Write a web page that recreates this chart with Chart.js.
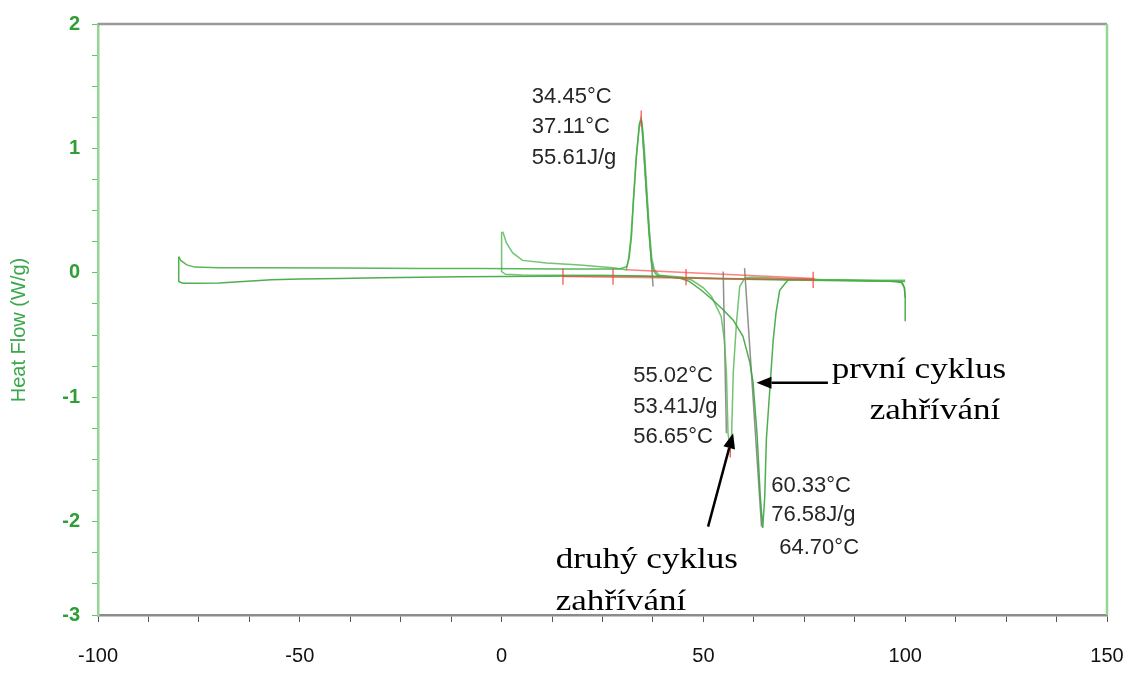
<!DOCTYPE html>
<html>
<head>
<meta charset="utf-8">
<script src="https://cdn.jsdelivr.net/npm/chart.js@4.4.1/dist/chart.umd.min.js"></script>
<style>
  body { margin: 0; background: #fff; }
  #wrap { width: 1129px; height: 682px; position: relative; }
</style>
</head>
<body>
<div id="wrap"><canvas id="dsc"></canvas></div>
<script>
// --- data (temperature °C, heat flow W/g) ---
// 1st cooling 100 -> -80 (crystallisation peak)
const cool1X = [100, 98, 90, 80, 70, 60, 50, 42, 38.5, 37.6, 37.1, 36.5, 35.9, 35.3, 34.9, 34.6, 34.2, 33.4, 32.6, 32.2, 31.6, 31.0, 29, 25, 15, 5, -5, -20, -40, -60, -70, -76, -78, -79.5, -80];
const cool1Y = [-0.07, -0.068, -0.065, -0.062, -0.058, -0.052, -0.045, -0.035, -0.02, 0.02, 0.1, 0.32, 0.62, 0.95, 1.15, 1.23, 1.2, 0.94, 0.55, 0.3, 0.12, 0.05, 0.03, 0.03, 0.03, 0.033, 0.035, 0.035, 0.038, 0.04, 0.04, 0.046, 0.064, 0.1, 0.13];
// 1st heating -80 -> 100 (melting 64.70 °C)
const heat1X = [-80, -80, -79, -76, -70, -64, -57, -50, -40, -30, -20, -10, 0, 10, 20, 30, 40, 44, 46.6, 49.5, 52.4, 55, 57.4, 59.8, 61.5, 62.3, 63.3, 64.1, 64.7, 65.2, 65.6, 66.45, 67.3, 68, 68.9, 71, 75, 80, 85, 90, 95, 98, 99.3, 99.8, 100, 100];
const heat1Y = [0.13, -0.07, -0.083, -0.083, -0.082, -0.07, -0.056, -0.05, -0.045, -0.04, -0.035, -0.032, -0.03, -0.028, -0.026, -0.026, -0.03, -0.04, -0.07, -0.14, -0.22, -0.3, -0.38, -0.51, -0.72, -0.88, -1.3, -1.8, -2.05, -1.8, -1.34, -0.94, -0.54, -0.32, -0.14, -0.056, -0.052, -0.055, -0.058, -0.062, -0.066, -0.07, -0.08, -0.12, -0.2, -0.39];
// 2nd cooling 100 -> 0
const cool2X = [100, 95, 85, 70, 55, 45, 39, 37.8, 37.2, 36.6, 36.0, 35.4, 34.9, 34.5, 34.1, 33.3, 32.5, 32.0, 31.4, 30.9, 27.5, 19.4, 11.1, 5.2, 2.75, 1.2, 0.3];
const cool2Y = [-0.06, -0.06, -0.058, -0.052, -0.045, -0.035, -0.02, 0.03, 0.12, 0.35, 0.66, 0.98, 1.17, 1.24, 1.19, 0.9, 0.5, 0.27, 0.1, 0.024, 0.04, 0.064, 0.08, 0.1, 0.16, 0.24, 0.33];
// 2nd heating 0 -> 100 (melting 56.65 °C)
const heat2X = [0, 0, 1, 5, 15, 25, 35, 42, 47, 50, 52, 54.4, 55.2, 55.7, 56.1, 56.65, 57.0, 57.4, 58.2, 59.0, 60.3, 62, 66, 72, 80, 90, 96, 99, 99.8, 100];
const heat2Y = [0.33, 0.01, -0.012, -0.018, -0.02, -0.02, -0.025, -0.035, -0.056, -0.12, -0.19, -0.35, -0.54, -0.8, -1.29, -1.42, -1.29, -0.8, -0.4, -0.11, -0.04, -0.035, -0.04, -0.05, -0.058, -0.064, -0.068, -0.075, -0.12, -0.2];

// integration baselines and onset tangents [x1, y1, x2, y2]
const baselineSegs = [[30.9, 0.024, 77.6, -0.045], [15.2, -0.03, 77.2, -0.056]];
const tangentSegs = [[34.65, 1.23, 37.53, -0.11], [54.9, 0.01, 55.7, -1.29], [60.2, 0.038, 64.4, -2.04]];
// limit / peak markers (x, centre y)
const markerX = [15.2, 27.6, 45.7, 77.2, 34.6, 56.65];
const markerY = [-0.03, -0.03, -0.035, -0.056, 1.24, -1.42];

// axis ticks
const xTicks = [-100, -87.5, -75, -62.5, -50, -37.5, -25, -12.5, 0, 12.5, 25, 37.5, 50, 62.5, 75, 87.5, 100, 112.5, 125, 137.5, 150];
const xTickLabels = ['-100', '', '', '', '-50', '', '', '', '0', '', '', '', '50', '', '', '', '100', '', '', '', '150'];
const yTicks = [-2.75, -2.5, -2.25, -2, -1.75, -1.5, -1.25, -1, -0.75, -0.5, -0.25, 0, 0.25, 0.5, 0.75, 1, 1.25, 1.5, 1.75, 2];
const yTickLabels = ['-3', '', '', '-2', '', '', '', '-1', '', '', '', '0', '', '', '', '1', '', '', '', '2'];

// annotation texts: [text, x, y] in data units
const resultTexts = [
    ['34.45°C', 7.5, 1.414], ['37.11°C', 7.5, 1.173], ['55.61J/g', 7.5, 0.924],
    ['55.02°C', 32.6, -0.827], ['53.41J/g', 32.6, -1.076], ['56.65°C', 32.6, -1.317],
    ['60.33°C', 66.8, -1.711], ['76.58J/g', 66.8, -1.944], ['64.70°C', 68.8, -2.209]
];
const noteTexts = [
    ['první cyklus', 81.8, -0.78], ['zahřívání', 91.2, -1.11],
    ['druhý cyklus', 13.4, -2.305], ['zahřívání', 13.4, -2.65]
];
const arrows = [[80.85, -0.884, 63.16, -0.884], [51.16, -2.04, 57.36, -1.29]];

const toPoints = (xs, ys) => xs.map((x, i) => ({ x, y: ys[i] }));
const segPoints = segs => {
    const pts = [];
    segs.forEach(([x1, y1, x2, y2]) => pts.push({ x: x1, y: y1 }, { x: x2, y: y2 }, { x: x2, y: null }));
    return pts;
};
const markerSegs = markerX.map((x, i) => [x, markerY[i] - 0.065, x, markerY[i] + 0.065]);

const lineDs = (data, color, width) => ({
    data, borderColor: color, borderWidth: width, showLine: true,
    pointRadius: 0, tension: 0, spanGaps: false
});

const extras = {
    id: 'extras',
    afterDraw(chart) {
        const { ctx, chartArea: a, scales: { x, y } } = chart;
        ctx.save();
        // frame: top grey, right green
        ctx.lineWidth = 2.5;
        ctx.strokeStyle = '#999';
        ctx.beginPath(); ctx.moveTo(a.left, a.top); ctx.lineTo(a.right, a.top); ctx.stroke();
        ctx.strokeStyle = '#95d595';
        ctx.beginPath(); ctx.moveTo(a.right, a.top); ctx.lineTo(a.right, a.bottom); ctx.stroke();

        // y axis title
        ctx.save();
        ctx.translate(19, 330);
        ctx.rotate(-Math.PI / 2);
        ctx.fillStyle = '#3aa84a';
        ctx.font = '20px "Liberation Sans", Arial, sans-serif';
        ctx.textAlign = 'center';
        ctx.textBaseline = 'middle';
        ctx.fillText('Heat Flow (W/g)', 0, 0);
        ctx.restore();

        ctx.fillStyle = '#262626';
        ctx.font = '22px "Liberation Sans", Arial, sans-serif';
        ctx.textBaseline = 'middle';
        resultTexts.forEach(([t, vx, vy]) => ctx.fillText(t, x.getPixelForValue(vx), y.getPixelForValue(vy)));

        // Czech notes, set in a slightly widened serif
        ctx.fillStyle = '#000';
        ctx.font = '30px "Liberation Serif", "Times New Roman", serif';
        noteTexts.forEach(([t, vx, vy]) => {
            ctx.save();
            ctx.translate(x.getPixelForValue(vx), y.getPixelForValue(vy));
            ctx.scale(1.17, 1);
            ctx.fillText(t, 0, 0);
            ctx.restore();
        });

        ctx.strokeStyle = '#000';
        ctx.lineWidth = 2.5;
        arrows.forEach(([x1, y1, x2, y2]) => {
            const px1 = x.getPixelForValue(x1), py1 = y.getPixelForValue(y1);
            const px2 = x.getPixelForValue(x2), py2 = y.getPixelForValue(y2);
            const ang = Math.atan2(py2 - py1, px2 - px1);
            const len = 15, half = 6;
            const bx = px2 - len * Math.cos(ang), by = py2 - len * Math.sin(ang);
            ctx.beginPath(); ctx.moveTo(px1, py1); ctx.lineTo(bx, by); ctx.stroke();
            ctx.beginPath();
            ctx.moveTo(px2, py2);
            ctx.lineTo(bx + half * Math.sin(ang), by - half * Math.cos(ang));
            ctx.lineTo(bx - half * Math.sin(ang), by + half * Math.cos(ang));
            ctx.closePath(); ctx.fill();
        });
        ctx.restore();
    }
};

new Chart(document.getElementById('dsc'), {
    type: 'scatter',
    data: {
        datasets: [
            lineDs(segPoints(baselineSegs), 'rgba(255,60,60,0.65)', 1.5),
            lineDs(segPoints(markerSegs), 'rgba(255,60,60,0.75)', 1.5),
            lineDs(toPoints(cool1X, cool1Y), 'rgba(70,175,70,0.9)', 1.5),
            lineDs(toPoints(cool2X, cool2Y), 'rgba(90,185,90,0.85)', 1.5),
            lineDs(toPoints(heat1X, heat1Y), 'rgba(60,165,60,0.9)', 1.5),
            lineDs(toPoints(heat2X, heat2Y), 'rgba(90,185,90,0.85)', 1.5),
            lineDs(segPoints(tangentSegs), 'rgba(70,70,70,0.6)', 1.5)
        ]
    },
    options: {
        responsive: true,
        maintainAspectRatio: false,
        animation: false,
        layout: { padding: { top: 24, right: 22, left: 0, bottom: 0 } },
        plugins: { legend: { display: false }, tooltip: { enabled: false } },
        scales: {
            x: {
                type: 'linear', min: -100, max: 150,
                afterBuildTicks: s => { s.ticks = xTicks.map(v => ({ value: v })); },
                afterFit: s => { s.height = 67; s.paddingLeft = 0; s.paddingRight = 0; },
                border: { color: '#8c8c8c', width: 2.5 },
                grid: { drawOnChartArea: false, tickLength: 7, color: '#555' },
                ticks: {
                    autoSkip: false, maxRotation: 0, color: '#111', padding: 22,
                    font: { size: 20, family: '"Liberation Sans", Arial, sans-serif' },
                    callback: (v, i) => xTickLabels[i]
                }
            },
            y: {
                type: 'linear', min: -2.75, max: 2,
                afterBuildTicks: s => { s.ticks = yTicks.map(v => ({ value: v })); },
                afterFit: s => { s.width = 98; },
                border: { color: '#95d595', width: 2.5 },
                grid: { drawOnChartArea: false, tickLength: 6, color: '#6cc06c' },
                ticks: {
                    autoSkip: false, color: '#2e9e35', padding: 12,
                    font: { size: 20, weight: 'bold', family: '"Liberation Sans", Arial, sans-serif' },
                    callback: (v, i) => yTickLabels[i]
                }
            }
        }
    },
    plugins: [extras]
});
</script>
</body>
</html>
